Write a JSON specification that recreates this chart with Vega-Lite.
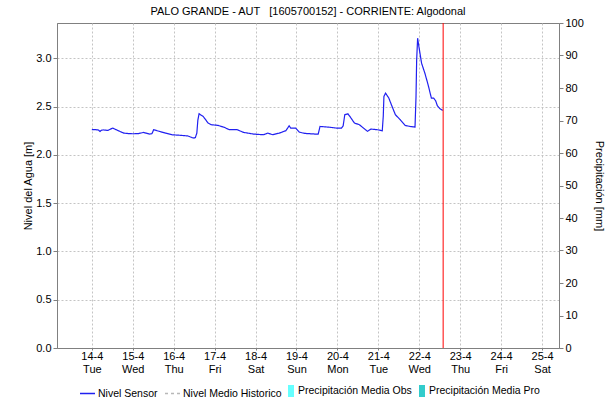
{
  "$schema": "https://vega.github.io/schema/vega-lite/v6.json",
  "width": 502,
  "height": 325,
  "autosize": {"type": "none"},
  "padding": {"left": 57, "top": 23, "right": 56, "bottom": 54},
  "background": "white",
  "title": {"text": "PALO GRANDE - AUT \u00a0 [1605700152] - CORRIENTE: Algodonal", "anchor": "middle", "fontSize": 11, "fontWeight": "normal", "font": "Liberation Sans", "color": "#000000", "offset": 0},
  "config": {
    "view": {"stroke": "#808080", "strokeWidth": 1},
    "axis": {"labelFont": "Liberation Sans", "labelFontSize": 11, "labelColor": "#000000", "titleFont": "Liberation Sans", "titleFontSize": 11, "titleFontWeight": "normal", "titleColor": "#000000", "domainColor": "#808080", "tickColor": "#808080", "tickSize": 4, "gridColor": "#c4c4c4", "gridDash": [2, 2], "gridWidth": 1},
    "legend": {"labelFont": "Liberation Sans", "labelFontSize": 10.5, "labelColor": "#000000", "title": null, "direction": "horizontal", "orient": "none"}
  },
  "datasets": {
    "nivel": [
      {"fecha": "2026-04-14T00:00", "nivel": 2.262, "serie": "Nivel Sensor"},
      {"fecha": "2026-04-14T01:55", "nivel": 2.262, "serie": "Nivel Sensor"},
      {"fecha": "2026-04-14T03:50", "nivel": 2.257, "serie": "Nivel Sensor"},
      {"fecha": "2026-04-14T04:48", "nivel": 2.243, "serie": "Nivel Sensor"},
      {"fecha": "2026-04-14T05:38", "nivel": 2.255, "serie": "Nivel Sensor"},
      {"fecha": "2026-04-14T06:43", "nivel": 2.258, "serie": "Nivel Sensor"},
      {"fecha": "2026-04-14T09:22", "nivel": 2.253, "serie": "Nivel Sensor"},
      {"fecha": "2026-04-14T10:48", "nivel": 2.265, "serie": "Nivel Sensor"},
      {"fecha": "2026-04-14T12:14", "nivel": 2.277, "serie": "Nivel Sensor"},
      {"fecha": "2026-04-14T15:07", "nivel": 2.253, "serie": "Nivel Sensor"},
      {"fecha": "2026-04-14T18:43", "nivel": 2.225, "serie": "Nivel Sensor"},
      {"fecha": "2026-04-14T21:36", "nivel": 2.22, "serie": "Nivel Sensor"},
      {"fecha": "2026-04-15T00:29", "nivel": 2.218, "serie": "Nivel Sensor"},
      {"fecha": "2026-04-15T03:22", "nivel": 2.22, "serie": "Nivel Sensor"},
      {"fecha": "2026-04-15T06:14", "nivel": 2.232, "serie": "Nivel Sensor"},
      {"fecha": "2026-04-15T07:55", "nivel": 2.225, "serie": "Nivel Sensor"},
      {"fecha": "2026-04-15T09:50", "nivel": 2.215, "serie": "Nivel Sensor"},
      {"fecha": "2026-04-15T11:17", "nivel": 2.22, "serie": "Nivel Sensor"},
      {"fecha": "2026-04-15T12:14", "nivel": 2.26, "serie": "Nivel Sensor"},
      {"fecha": "2026-04-15T15:36", "nivel": 2.243, "serie": "Nivel Sensor"},
      {"fecha": "2026-04-15T19:12", "nivel": 2.225, "serie": "Nivel Sensor"},
      {"fecha": "2026-04-15T23:02", "nivel": 2.208, "serie": "Nivel Sensor"},
      {"fecha": "2026-04-16T04:48", "nivel": 2.201, "serie": "Nivel Sensor"},
      {"fecha": "2026-04-16T08:24", "nivel": 2.195, "serie": "Nivel Sensor"},
      {"fecha": "2026-04-16T10:48", "nivel": 2.178, "serie": "Nivel Sensor"},
      {"fecha": "2026-04-16T12:00", "nivel": 2.174, "serie": "Nivel Sensor"},
      {"fecha": "2026-04-16T12:43", "nivel": 2.18, "serie": "Nivel Sensor"},
      {"fecha": "2026-04-16T13:34", "nivel": 2.225, "serie": "Nivel Sensor"},
      {"fecha": "2026-04-16T14:10", "nivel": 2.36, "serie": "Nivel Sensor"},
      {"fecha": "2026-04-16T14:53", "nivel": 2.425, "serie": "Nivel Sensor"},
      {"fecha": "2026-04-16T17:17", "nivel": 2.398, "serie": "Nivel Sensor"},
      {"fecha": "2026-04-16T20:10", "nivel": 2.329, "serie": "Nivel Sensor"},
      {"fecha": "2026-04-16T22:05", "nivel": 2.312, "serie": "Nivel Sensor"},
      {"fecha": "2026-04-17T01:55", "nivel": 2.305, "serie": "Nivel Sensor"},
      {"fecha": "2026-04-17T05:46", "nivel": 2.284, "serie": "Nivel Sensor"},
      {"fecha": "2026-04-17T08:38", "nivel": 2.26, "serie": "Nivel Sensor"},
      {"fecha": "2026-04-17T13:12", "nivel": 2.26, "serie": "Nivel Sensor"},
      {"fecha": "2026-04-17T17:02", "nivel": 2.232, "serie": "Nivel Sensor"},
      {"fecha": "2026-04-17T22:48", "nivel": 2.215, "serie": "Nivel Sensor"},
      {"fecha": "2026-04-18T04:34", "nivel": 2.208, "serie": "Nivel Sensor"},
      {"fecha": "2026-04-18T07:12", "nivel": 2.225, "serie": "Nivel Sensor"},
      {"fecha": "2026-04-18T10:05", "nivel": 2.208, "serie": "Nivel Sensor"},
      {"fecha": "2026-04-18T13:55", "nivel": 2.225, "serie": "Nivel Sensor"},
      {"fecha": "2026-04-18T17:46", "nivel": 2.25, "serie": "Nivel Sensor"},
      {"fecha": "2026-04-18T19:41", "nivel": 2.30, "serie": "Nivel Sensor"},
      {"fecha": "2026-04-18T20:38", "nivel": 2.277, "serie": "Nivel Sensor"},
      {"fecha": "2026-04-18T23:31", "nivel": 2.277, "serie": "Nivel Sensor"},
      {"fecha": "2026-04-19T01:41", "nivel": 2.235, "serie": "Nivel Sensor"},
      {"fecha": "2026-04-19T04:48", "nivel": 2.222, "serie": "Nivel Sensor"},
      {"fecha": "2026-04-19T11:02", "nivel": 2.215, "serie": "Nivel Sensor"},
      {"fecha": "2026-04-19T12:43", "nivel": 2.215, "serie": "Nivel Sensor"},
      {"fecha": "2026-04-19T13:49", "nivel": 2.294, "serie": "Nivel Sensor"},
      {"fecha": "2026-04-19T18:43", "nivel": 2.287, "serie": "Nivel Sensor"},
      {"fecha": "2026-04-19T23:31", "nivel": 2.277, "serie": "Nivel Sensor"},
      {"fecha": "2026-04-20T02:24", "nivel": 2.277, "serie": "Nivel Sensor"},
      {"fecha": "2026-04-20T03:22", "nivel": 2.30, "serie": "Nivel Sensor"},
      {"fecha": "2026-04-20T04:19", "nivel": 2.415, "serie": "Nivel Sensor"},
      {"fecha": "2026-04-20T06:09", "nivel": 2.425, "serie": "Nivel Sensor"},
      {"fecha": "2026-04-20T07:12", "nivel": 2.40, "serie": "Nivel Sensor"},
      {"fecha": "2026-04-20T09:59", "nivel": 2.329, "serie": "Nivel Sensor"},
      {"fecha": "2026-04-20T12:52", "nivel": 2.312, "serie": "Nivel Sensor"},
      {"fecha": "2026-04-20T17:40", "nivel": 2.243, "serie": "Nivel Sensor"},
      {"fecha": "2026-04-20T19:35", "nivel": 2.267, "serie": "Nivel Sensor"},
      {"fecha": "2026-04-20T23:25", "nivel": 2.26, "serie": "Nivel Sensor"},
      {"fecha": "2026-04-21T02:18", "nivel": 2.25, "serie": "Nivel Sensor"},
      {"fecha": "2026-04-21T02:53", "nivel": 2.40, "serie": "Nivel Sensor"},
      {"fecha": "2026-04-21T03:16", "nivel": 2.604, "serie": "Nivel Sensor"},
      {"fecha": "2026-04-21T04:13", "nivel": 2.639, "serie": "Nivel Sensor"},
      {"fecha": "2026-04-21T06:09", "nivel": 2.587, "serie": "Nivel Sensor"},
      {"fecha": "2026-04-21T08:04", "nivel": 2.50, "serie": "Nivel Sensor"},
      {"fecha": "2026-04-21T10:00", "nivel": 2.415, "serie": "Nivel Sensor"},
      {"fecha": "2026-04-21T12:52", "nivel": 2.363, "serie": "Nivel Sensor"},
      {"fecha": "2026-04-21T15:45", "nivel": 2.304, "serie": "Nivel Sensor"},
      {"fecha": "2026-04-21T18:38", "nivel": 2.294, "serie": "Nivel Sensor"},
      {"fecha": "2026-04-21T21:30", "nivel": 2.287, "serie": "Nivel Sensor"},
      {"fecha": "2026-04-21T22:05", "nivel": 2.60, "serie": "Nivel Sensor"},
      {"fecha": "2026-04-21T22:28", "nivel": 2.983, "serie": "Nivel Sensor"},
      {"fecha": "2026-04-21T23:02", "nivel": 3.208, "serie": "Nivel Sensor"},
      {"fecha": "2026-04-21T23:46", "nivel": 3.121, "serie": "Nivel Sensor"},
      {"fecha": "2026-04-22T01:21", "nivel": 2.949, "serie": "Nivel Sensor"},
      {"fecha": "2026-04-22T03:16", "nivel": 2.846, "serie": "Nivel Sensor"},
      {"fecha": "2026-04-22T05:11", "nivel": 2.725, "serie": "Nivel Sensor"},
      {"fecha": "2026-04-22T07:06", "nivel": 2.587, "serie": "Nivel Sensor"},
      {"fecha": "2026-04-22T08:24", "nivel": 2.587, "serie": "Nivel Sensor"},
      {"fecha": "2026-04-22T09:36", "nivel": 2.56, "serie": "Nivel Sensor"},
      {"fecha": "2026-04-22T10:34", "nivel": 2.51, "serie": "Nivel Sensor"},
      {"fecha": "2026-04-22T12:00", "nivel": 2.48, "serie": "Nivel Sensor"},
      {"fecha": "2026-04-22T13:12", "nivel": 2.465, "serie": "Nivel Sensor"},
      {"fecha": "2026-04-22T13:55", "nivel": 2.462, "serie": "Nivel Sensor"}
    ],
    "precip": [
      {"fecha": "2026-04-14T00:00", "mm": 0, "serie": "Precipitación Media Obs"},
      {"fecha": "2026-04-15T00:00", "mm": 0, "serie": "Precipitación Media Obs"},
      {"fecha": "2026-04-16T00:00", "mm": 0, "serie": "Precipitación Media Obs"},
      {"fecha": "2026-04-17T00:00", "mm": 0, "serie": "Precipitación Media Obs"},
      {"fecha": "2026-04-18T00:00", "mm": 0, "serie": "Precipitación Media Obs"},
      {"fecha": "2026-04-19T00:00", "mm": 0, "serie": "Precipitación Media Obs"},
      {"fecha": "2026-04-20T00:00", "mm": 0, "serie": "Precipitación Media Obs"},
      {"fecha": "2026-04-21T00:00", "mm": 0, "serie": "Precipitación Media Obs"},
      {"fecha": "2026-04-22T00:00", "mm": 0, "serie": "Precipitación Media Obs"},
      {"fecha": "2026-04-23T00:00", "mm": 0, "serie": "Precipitación Media Pro"},
      {"fecha": "2026-04-24T00:00", "mm": 0, "serie": "Precipitación Media Pro"},
      {"fecha": "2026-04-25T00:00", "mm": 0, "serie": "Precipitación Media Pro"}
    ],
    "ahora": [
      {"fecha": "2026-04-22T14:00"}
    ]
  },
  "layer": [
    {
      "data": {"name": "nivel"},
      "mark": {"type": "line", "strokeWidth": 1.2, "interpolate": "linear"},
      "encoding": {
        "x": {
          "field": "fecha", "type": "temporal",
          "scale": {"domain": [{"year": 2026, "month": 4, "date": 13, "hours": 6, "minutes": 30}, {"year": 2026, "month": 4, "date": 25, "hours": 7}]},
          "axis": {
            "title": null, "grid": true,
            "values": [
              {"year": 2026, "month": 4, "date": 14}, {"year": 2026, "month": 4, "date": 15}, {"year": 2026, "month": 4, "date": 16},
              {"year": 2026, "month": 4, "date": 17}, {"year": 2026, "month": 4, "date": 18}, {"year": 2026, "month": 4, "date": 19},
              {"year": 2026, "month": 4, "date": 20}, {"year": 2026, "month": 4, "date": 21}, {"year": 2026, "month": 4, "date": 22},
              {"year": 2026, "month": 4, "date": 23}, {"year": 2026, "month": 4, "date": 24}, {"year": 2026, "month": 4, "date": 25}
            ],
            "labelExpr": "[timeFormat(datum.value, '%-d-%-m'), timeFormat(datum.value, '%a')]",
            "labelLineHeight": 13, "labelOverlap": false, "labelBound": false, "labelFlush": false, "labelPadding": 0, "tickSize": 2
          }
        },
        "y": {
          "field": "nivel", "type": "quantitative",
          "scale": {"domain": [0, 3.365], "nice": false, "zero": true},
          "axis": {"orient": "left", "title": "Nivel del Agua [m]", "values": [0, 0.5, 1, 1.5, 2, 2.5, 3], "format": ".1f", "grid": true, "titlePadding": 2, "labelPadding": 2}
        },
        "color": {
          "field": "serie", "type": "nominal",
          "scale": {"domain": ["Nivel Sensor", "Nivel Medio Historico"], "range": ["#2020f0", "#b8b8b8"]},
          "legend": {"legendX": 22, "legendY": 362, "symbolType": "stroke", "symbolSize": 225, "symbolStrokeWidth": 1.5, "labelOffset": 2, "columnPadding": 4}
        },
        "strokeDash": {
          "field": "serie", "type": "nominal",
          "scale": {"domain": ["Nivel Sensor", "Nivel Medio Historico"], "range": [[1, 0], [3, 3]]},
          "legend": {"legendX": 22, "legendY": 362, "symbolType": "stroke", "symbolSize": 225, "symbolStrokeWidth": 1.5, "labelOffset": 2, "columnPadding": 4}
        }
      }
    },
    {
      "data": {"name": "ahora"},
      "mark": {"type": "rule", "color": "#ff0000", "strokeWidth": 1},
      "encoding": {
        "x": {"field": "fecha", "type": "temporal"}
      }
    },
    {
      "data": {"name": "precip"},
      "mark": {"type": "bar", "width": 20},
      "encoding": {
        "x": {"field": "fecha", "type": "temporal"},
        "y": {
          "field": "mm", "type": "quantitative",
          "scale": {"domain": [0, 100], "nice": false},
          "axis": {"orient": "right", "title": "Precipitación [mm]", "values": [0, 10, 20, 30, 40, 50, 60, 70, 80, 90, 100], "grid": false, "titlePadding": 10, "labelPadding": 2}
        },
        "fill": {
          "field": "serie", "type": "nominal",
          "scale": {"domain": ["Precipitación Media Obs", "Precipitación Media Pro"], "range": ["#66ffff", "#33cccc"]},
          "legend": {"legendX": 228, "legendY": 362, "symbolType": "M-0.5,-1H0.5V1H-0.5Z", "symbolSize": 144, "symbolStrokeWidth": 0, "labelOffset": 1, "columnPadding": 4}
        }
      }
    }
  ],
  "resolve": {"scale": {"y": "independent"}}
}
